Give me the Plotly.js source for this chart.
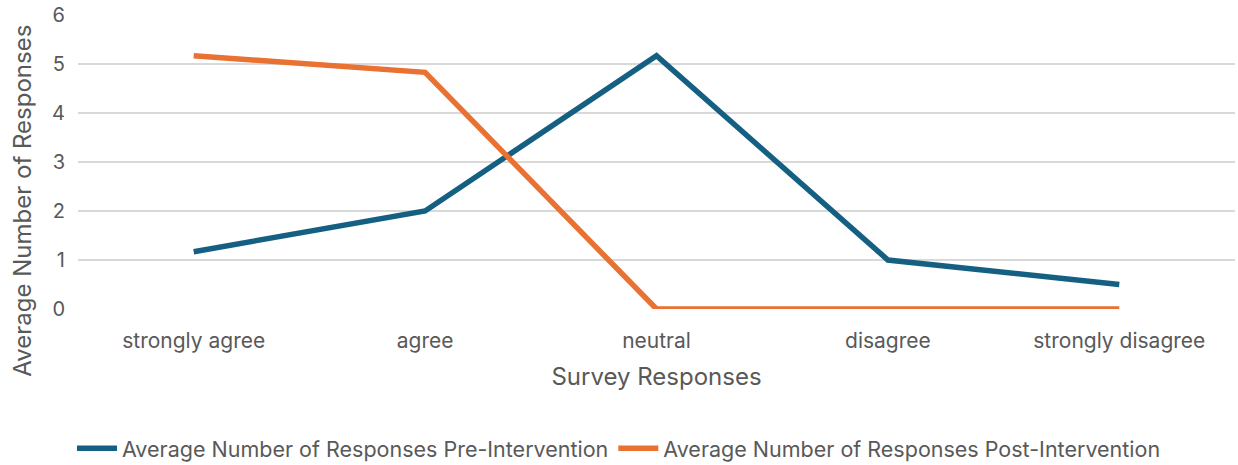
<!DOCTYPE html>
<html>
<head>
<meta charset="utf-8">
<script src="https://cdn.plot.ly/plotly-3.0.1.min.js"></script>
<style>
  html, body { margin: 0; padding: 0; background: #ffffff; }
  #chart { width: 1238px; height: 465px; }
</style>
</head>
<body>
<div id="chart"></div>
<script>
// Survey answer categories on the x axis
const categories = ['strongly agree', 'agree', 'neutral', 'disagree', 'strongly disagree'];

// Average number of responses per category
const preIntervention = [1.17, 2, 5.17, 1, 0.5];
const postIntervention = [5.17, 4.83, 0, 0, 0];

const yTicks = [0, 1, 2, 3, 4, 5, 6];

const textColor = '#595959';
const fontFamily = 'Inter, "Noto Sans", Roboto, sans-serif';

const traces = [
  {
    x: categories,
    y: preIntervention,
    type: 'scatter',
    mode: 'lines',
    name: 'Average Number of Responses Pre-Intervention',
    line: { color: '#156082', width: 5.5, shape: 'linear' },
    hoverinfo: 'x+y'
  },
  {
    x: categories,
    y: postIntervention,
    type: 'scatter',
    mode: 'lines',
    name: 'Average Number of Responses Post-Intervention',
    line: { color: '#E97132', width: 5.5, shape: 'linear' },
    hoverinfo: 'x+y'
  }
];

const layout = {
  width: 1238,
  height: 465,
  margin: { l: 78, r: 3, t: 15, b: 156 },
  paper_bgcolor: '#ffffff',
  plot_bgcolor: '#ffffff',
  font: { family: fontFamily, color: textColor, size: 19 },
  showlegend: true,
  legend: {
    orientation: 'h',
    xref: 'container',
    yref: 'container',
    x: 0.5,
    xanchor: 'center',
    y: 0.036,
    yanchor: 'middle',
    font: { family: fontFamily, size: 21.5, color: textColor },
    itemwidth: 40,
    tracegroupgap: 0
  },
  xaxis: {
    type: 'category',
    categoryorder: 'array',
    categoryarray: categories,
    range: [-0.5, categories.length - 0.5],
    showgrid: false,
    zeroline: false,
    showline: false,
    ticks: '',
    tickfont: { family: fontFamily, size: 21, color: textColor },
    ticklabelstandoff: 17,
    title: {
      text: 'Survey Responses',
      font: { family: fontFamily, size: 24, color: textColor },
      standoff: 16
    }
  },
  yaxis: {
    range: [0, 6],
    tickvals: yTicks,
    ticktext: yTicks.map(String),
    showgrid: true,
    gridcolor: '#d9d9d9',
    gridwidth: 1.5,
    zeroline: false,
    showline: false,
    ticks: '',
    tickfont: { family: fontFamily, size: 20, color: textColor },
    ticklabelstandoff: 12
  },
  annotations: [
    {
      // y-axis title, centred a little below the plot's middle
      text: 'Average Number of Responses',
      textangle: -90,
      xref: 'paper',
      yref: 'paper',
      x: -0.048,
      y: 0.37,
      xanchor: 'center',
      yanchor: 'middle',
      showarrow: false,
      font: { family: fontFamily, size: 24, color: textColor }
    }
  ]
};

Plotly.newPlot('chart', traces, layout, { displayModeBar: false, staticPlot: true });
</script>
</body>
</html>
